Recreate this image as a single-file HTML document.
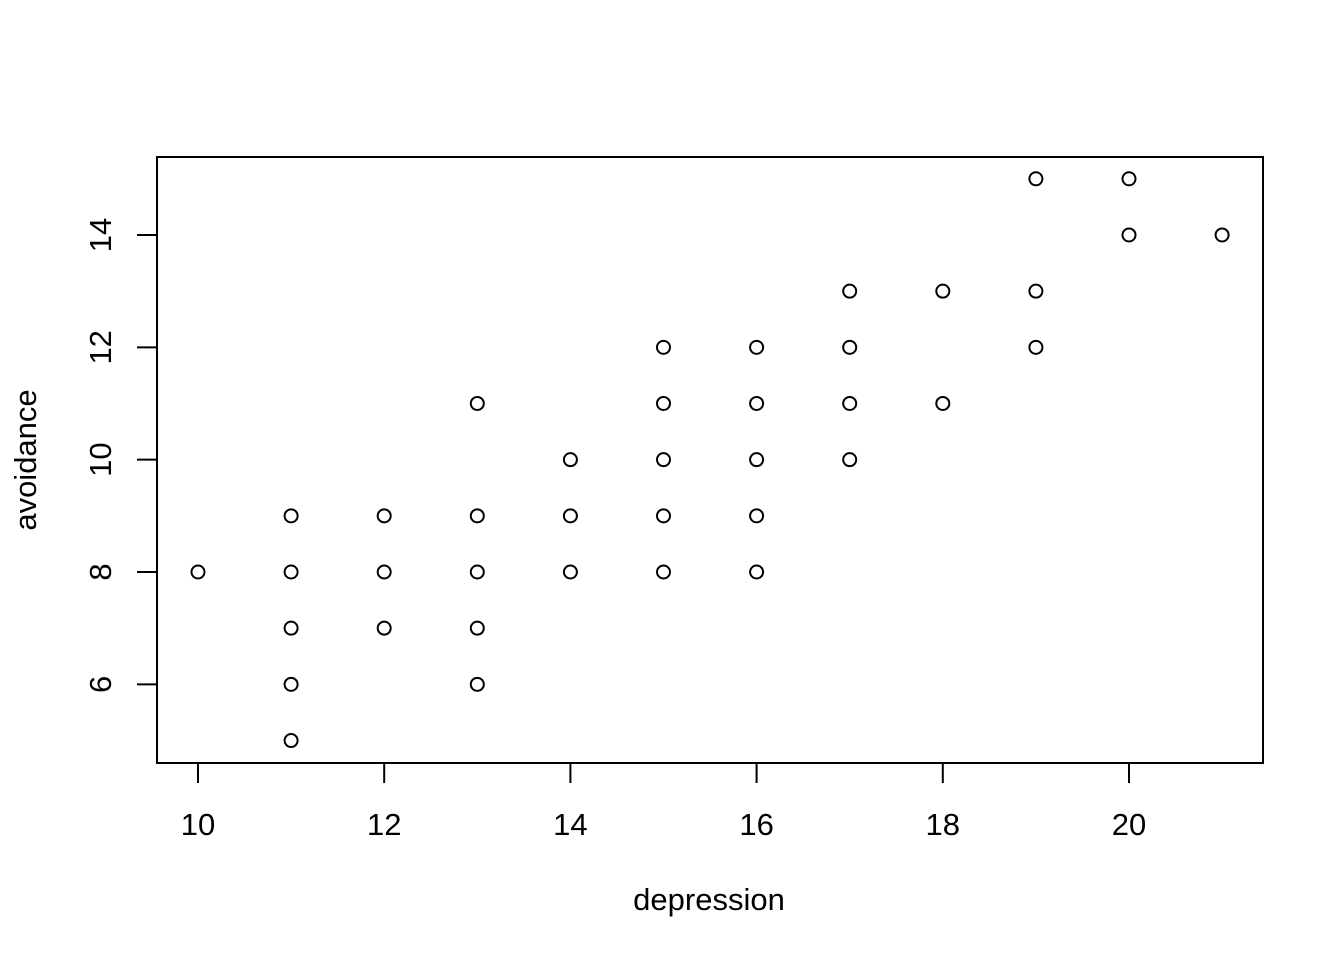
<!DOCTYPE html>
<html><head><meta charset="utf-8"><style>
html,body{margin:0;padding:0;background:#fff;}
svg{display:block;font-family:"Liberation Sans",Arial,sans-serif;}
</style></head><body>
<svg id="chart" width="1344" height="960" viewBox="0 0 1344 960" xmlns="http://www.w3.org/2000/svg">
<rect x="157" y="157" width="1106" height="606" fill="none" stroke="#000" stroke-width="2"/>
<g id="xaxis"></g>
<g id="yaxis"></g>
<g id="points"></g>
<text x="709" y="910" font-size="31" text-anchor="middle">depression</text>
<text x="0" y="0" font-size="31" text-anchor="middle" transform="translate(36,460) rotate(-90)">avoidance</text>
</svg>
<script>
const depression = [10,11,11,11,11,11,12,12,12,13,13,13,13,13,14,14,14,15,15,15,15,15,16,16,16,16,16,17,17,17,17,18,18,19,19,19,20,20,21];
const avoidance  = [8,9,8,7,6,5,9,8,7,11,9,8,7,6,10,9,8,12,11,10,9,8,12,11,10,9,8,13,12,11,10,13,11,15,13,12,15,14,14];
const xTicks = [10,12,14,16,18,20];
const yTicks = [6,8,10,12,14];
const NS = "http://www.w3.org/2000/svg";
function xs(v){ return 198 + (v-10)*93.1; }
function ys(v){ return 572 - (v-8)*56.17; }
function mk(tag, attrs, parent){
  const e = document.createElementNS(NS, tag);
  for (const k in attrs) e.setAttribute(k, attrs[k]);
  parent.appendChild(e); return e;
}
const xa = document.getElementById('xaxis');
xTicks.forEach(t => {
  const l = mk('line',{x1:xs(t),x2:xs(t),y1:763,y2:783,stroke:'#000','stroke-width':2},xa);
  
  
  const tx = mk('text',{x:xs(t),y:835,'font-size':31,'text-anchor':'middle'},xa);
  tx.textContent = t;
  
  
});
const ya = document.getElementById('yaxis');
yTicks.forEach(t => {
  const l = mk('line',{x1:137,x2:157,y1:ys(t),y2:ys(t),stroke:'#000','stroke-width':2},ya);
  
  
  const tx = mk('text',{x:0,y:0,'font-size':31,'text-anchor':'middle',transform:`translate(111,${ys(t)}) rotate(-90)`},ya);
  tx.textContent = t;
  
  
});
const pg = document.getElementById('points');
depression.forEach((d,i) => {
  const c = mk('circle',{cx:xs(d),cy:ys(avoidance[i]),r:6.5,fill:'none',stroke:'#000','stroke-width':2},pg);
  
  
});
</script>
</body></html>
